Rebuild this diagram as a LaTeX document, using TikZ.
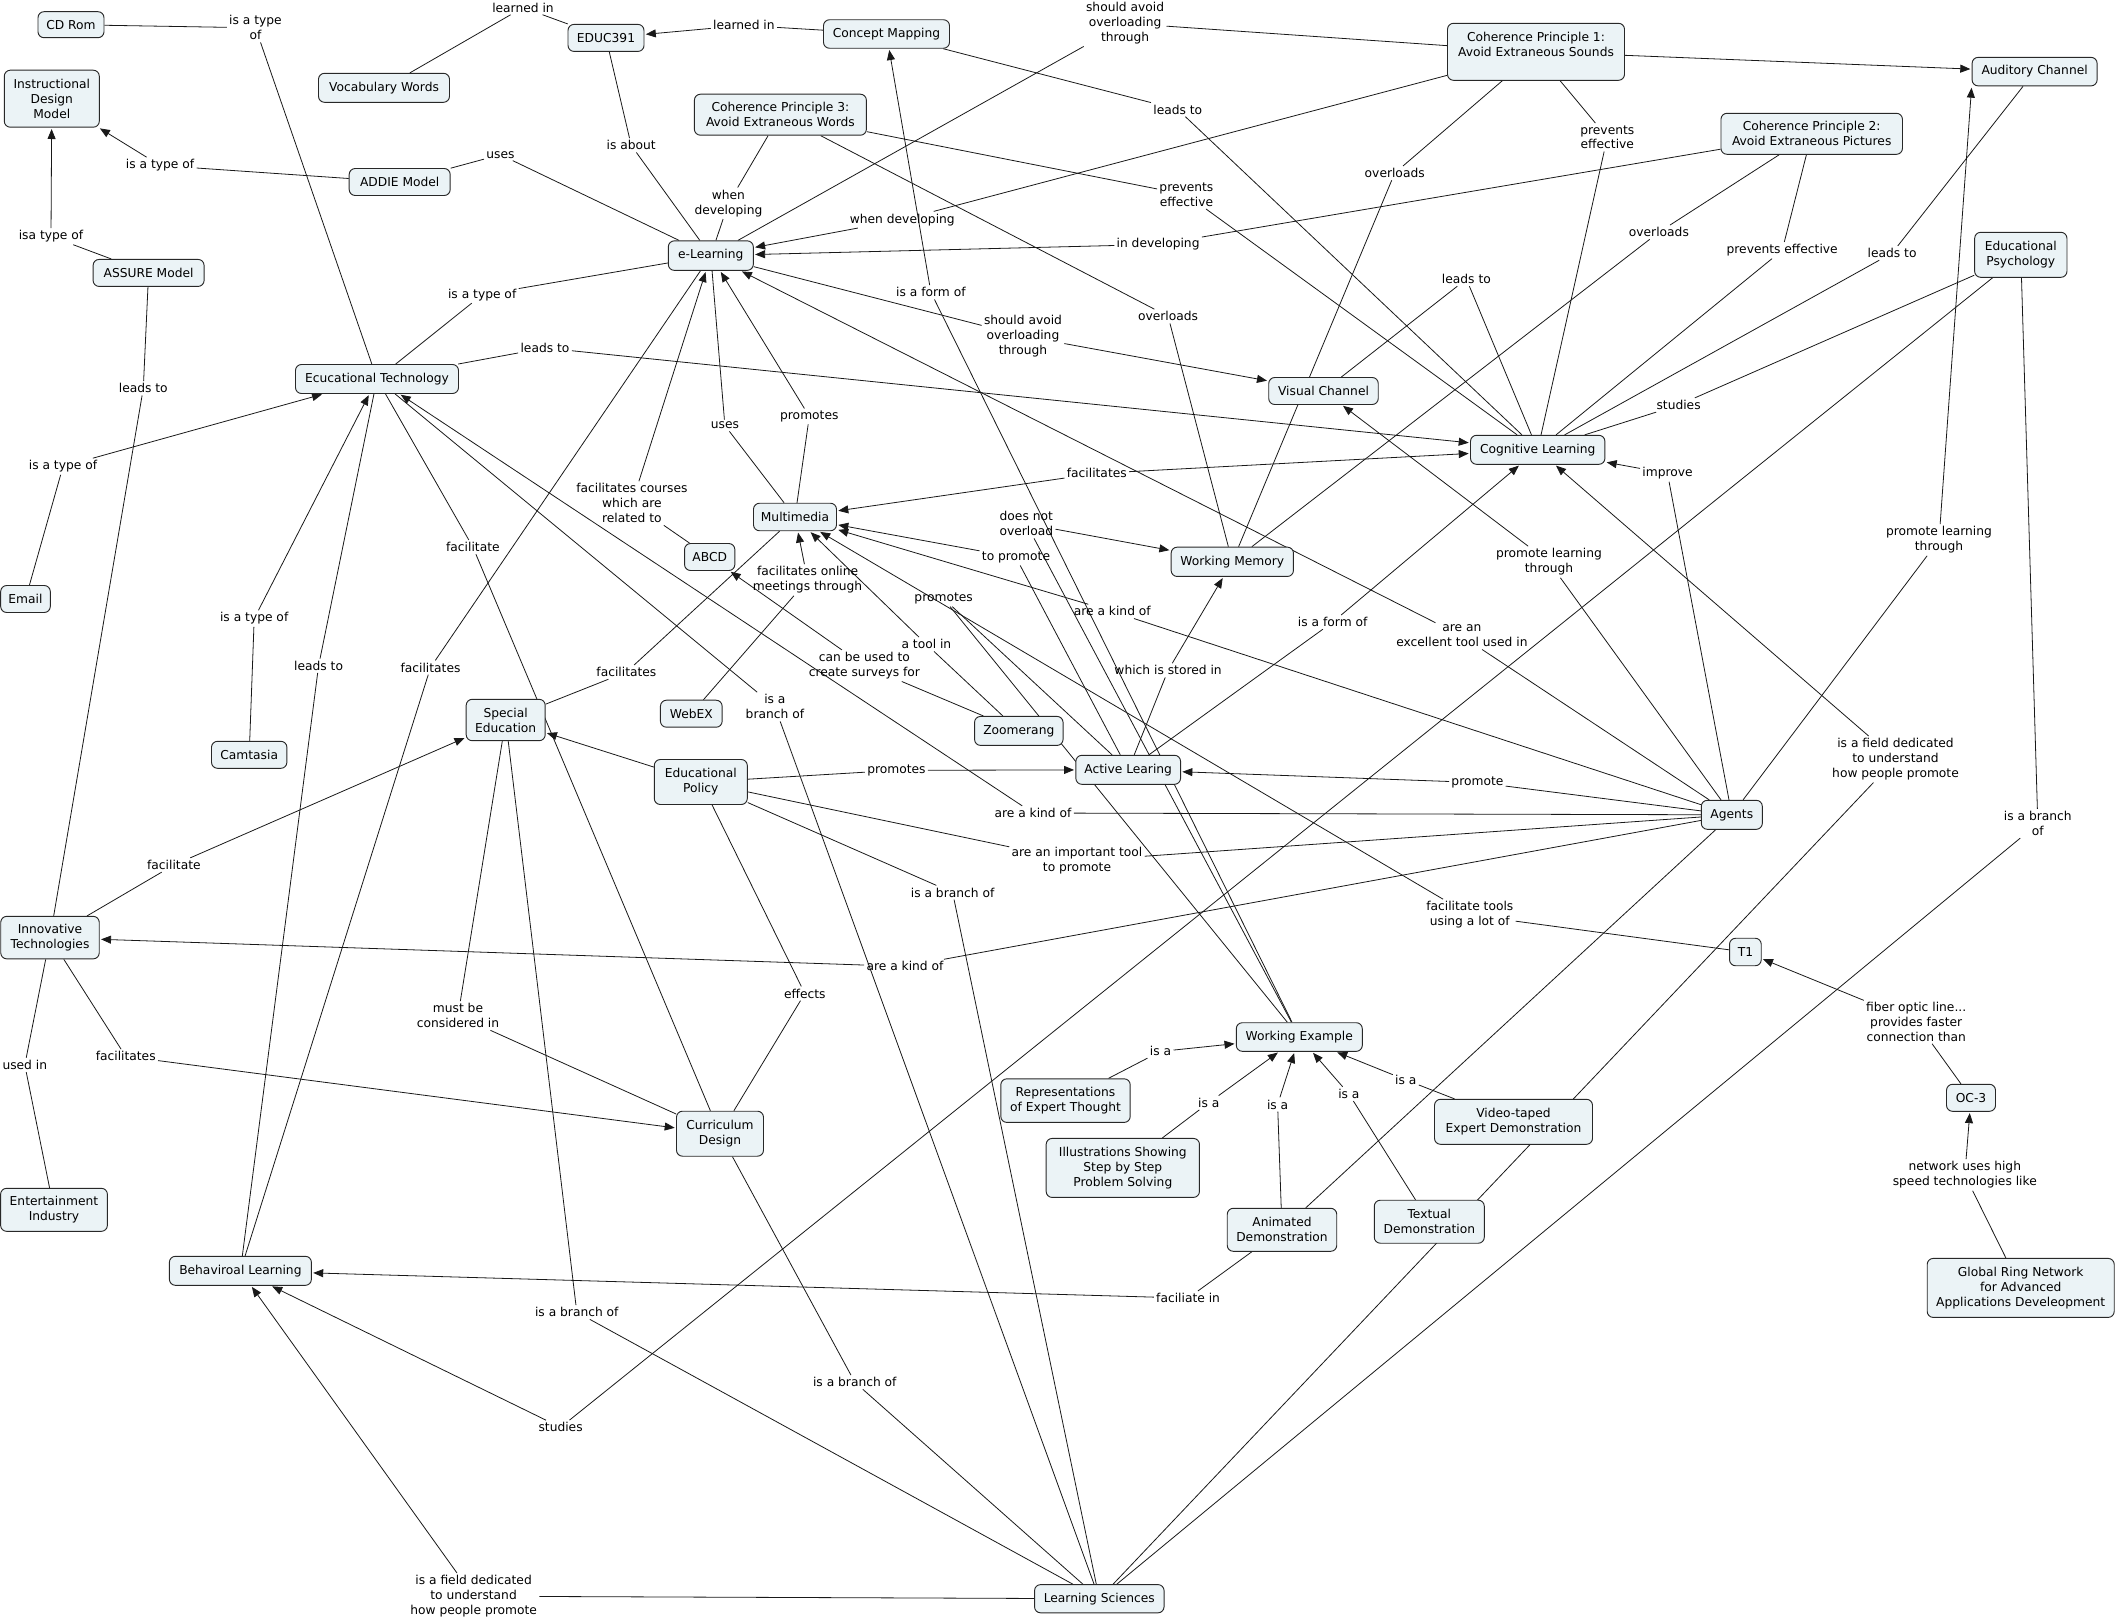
\documentclass[tikz,border=0pt]{standalone}
\usepackage{fontspec}
\setmainfont{DejaVu Sans}
\usetikzlibrary{arrows.meta,backgrounds}
\definecolor{nodefill}{RGB}{235,243,246}
\definecolor{nodeline}{RGB}{40,40,40}
\definecolor{edgecol}{RGB}{25,25,25}
\begin{document}
\begin{tikzpicture}[x=0.75pt,y=-0.75pt,
  con/.style 2 args={draw=nodeline, fill=nodefill, rounded corners=4.5pt, line width=0.7pt,
    minimum width=#1*0.75pt, minimum height=#2*0.75pt, inner sep=1pt, align=center,
    font=\fontsize{9.2pt}{11.2pt}\selectfont},
  lab/.style={align=center, inner sep=1.6pt, font=\fontsize{9.2pt}{11.2pt}\selectfont},
  ln/.style={draw=edgecol, line width=0.6pt},
  ar/.style={ln, -{Triangle[length=7.5pt,width=6pt]}, shorten >=1pt}]
\useasboundingbox (0,0) rectangle (2118,1622);

% ---------- concepts ----------
\node[con={66}{26}] (cdrom) at (71,24.7) {CD Rom};
\node[con={95}{57}] (idm) at (51.8,98.7) {Instructional\\Design\\Model};
\node[con={131}{29}] (vocab) at (384,87.8) {Vocabulary Words};
\node[con={101}{27}] (addie) at (399.7,182) {ADDIE Model};
\node[con={111}{27}] (assure) at (148.6,272.9) {ASSURE Model};
\node[con={163}{29}] (edtech) at (377,379) {Ecucational Technology};
\node[con={76}{27}] (educ) at (606,37.9) {EDUC391};
\node[con={126}{28.5}] (cmap) at (886.5,34) {Concept Mapping};
\node[con={172}{41}] (cp3) at (780.4,114.7) {Coherence Principle 3:\\Avoid Extraneous Words};
\node[con={85}{29.5}] (elearn) at (710.8,255.6) {e-Learning};
\node[con={83}{27.5}] (mm) at (795,517) {Multimedia};
\node[con={109.5}{27}] (vc) at (1323.5,391) {Visual Channel};
\node[con={134.4}{29}] (cl) at (1537.7,449.8) {Cognitive Learning};
\node[con={177}{57}] (cp1) at (1536,51.8) {Coherence Principle 1:\\Avoid Extraneous Sounds\\\mbox{}};
\node[con={125}{28.5}] (aud) at (2034.6,71.6) {Auditory Channel};
\node[con={181.5}{41}] (cp2) at (1811.7,133.8) {Coherence Principle 2:\\Avoid Extraneous Pictures};
\node[con={92.3}{45}] (edpsy) at (2020.8,254.8) {Educational\\Psychology};
\node[con={49.6}{27}] (email) at (25.5,599) {Email};
\node[con={75.4}{27}] (camt) at (249.2,754.8) {Camtasia};
\node[con={79}{41.4}] (sped) at (505.7,720) {Special\\Education};
\node[con={98.5}{42.5}] (innov) at (50,937.6) {Innovative\\Technologies};
\node[con={50.3}{27}] (abcd) at (709.7,557) {ABCD};
\node[con={61.7}{27}] (webex) at (691.3,713.7) {WebEX};
\node[con={93}{45}] (edpol) at (700.8,782) {Educational\\Policy};
\node[con={88.5}{29}] (zoom) at (1018.8,730.9) {Zoomerang};
\node[con={122.3}{29.3}] (wm) at (1232.3,561.8) {Working Memory};
\node[con={104.7}{29}] (al) at (1128.2,769.8) {Active Learing};
\node[con={126}{28.6}] (we) at (1299.3,1037) {Working Example};
\node[con={61}{29}] (agents) at (1731.8,814.8) {Agents};
\node[con={31.7}{27.5}] (t1) at (1745.4,952) {T1};
\node[con={106.8}{43}] (ent) at (54,1209.8) {Entertainment\\Industry};
\node[con={142}{29}] (bl) at (240.4,1270.8) {Behaviroal Learning};
\node[con={87}{45}] (cd) at (720,1133.7) {Curriculum\\Design};
\node[con={129.5}{28.2}] (ls) at (1099.3,1598.7) {Learning Sciences};
\node[con={129.4}{43.6}] (rep) at (1065.5,1100.6) {Representations\\of Expert Thought};
\node[con={153.3}{59}] (illus) at (1122.8,1167.9) {Illustrations Showing\\Step by Step\\Problem Solving};
\node[con={109.5}{43}] (anim) at (1282,1229.8) {Animated\\Demonstration};
\node[con={110}{43}] (textd) at (1429.3,1221.7) {Textual\\Demonstration};
\node[con={158}{45}] (video) at (1513.5,1121.8) {Video-taped\\Expert Demonstration};
\node[con={49}{27}] (oc3) at (1971,1097.8) {OC-3};
\node[con={187}{59}] (grn) at (2020.7,1287.9) {Global Ring Network\\for Advanced\\Applications Develeopment};

% ---------- linking phrases ----------
\node[lab] (l1) at (255.5,27.8) {is a type\\of};
\node[lab] (l2) at (523,7.6) {learned in};
\node[lab] (l3) at (743.9,25.4) {learned in};
\node[lab] (l4) at (631.2,145.3) {is about};
\node[lab] (l5) at (160.1,165.5) {is a type of};
\node[lab] (l6) at (500.4,154.7) {uses};
\node[lab] (l7) at (51,236.4) {isa type of};
\node[lab] (l8) at (143.3,388.3) {leads to};
\node[lab] (l9) at (482.2,294.8) {is a type of};
\node[lab] (l10) at (545,348) {leads to};
\node[lab] (l11) at (63,466.5) {is a type of};
\node[lab] (l12) at (254.2,618.6) {is a type of};
\node[lab] (l13) at (318.6,665.7) {leads to};
\node[lab] (l14) at (472.9,547.1) {facilitate};
\node[lab] (l15) at (430.5,667.5) {facilitates};
\node[lab] (l16) at (631.9,503.3) {facilitates courses\\which are\\related to};
\node[lab] (l17) at (724.9,425.5) {uses};
\node[lab] (l18) at (809.3,416.4) {promotes};
\node[lab] (l19) at (1461.9,636.1) {are an\\excellent tool used in};
\node[lab] (l20) at (1023,336) {should avoid\\overloading\\through};
\node[lab] (l21) at (902.3,219.7) {when developing};
\node[lab] (l22) at (1158.1,244.4) {in developing};
\node[lab] (l23) at (1125.1,23.3) {should avoid\\overloading\\through};
\node[lab] (l24) at (728.4,203.3) {when\\developing};
\node[lab] (l25) at (1186.4,194.7) {prevents\\effective};
\node[lab] (l26) at (1168.1,316.3) {overloads};
\node[lab] (l27) at (1177.8,109.5) {leads to};
\node[lab] (l28) at (1394.7,173.1) {overloads};
\node[lab] (l29) at (1607.3,137.3) {prevents\\effective};
\node[lab] (l31) at (1658.9,232.2) {overloads};
\node[lab] (l32) at (1782.2,250.3) {prevents effective};
\node[lab] (l33) at (1892.1,253.1) {leads to};
\node[lab] (l34) at (1466.4,279.1) {leads to};
\node[lab] (l35) at (1678.6,405) {studies};
\node[lab] (l36) at (1667.5,473.4) {improve};
\node[lab] (l37) at (1332.7,622.1) {is a form of};
\node[lab] (l38) at (1895.5,759.3) {is a field dedicated\\to understand\\how people promote};
\node[lab] (l39) at (1096.8,473.4) {facilitates};
\node[lab] (l40) at (1477.4,782.5) {promote};
\node[lab] (l41) at (1033,813) {are a kind of};
\node[lab] (l42) at (1077,861) {are an important tool\\to promote};
\node[lab] (l43) at (905,966.4) {are a kind of};
\node[lab] (l44) at (1112.3,611.4) {are a kind of};
\node[lab] (l45) at (1939,540) {promote learning\\through};
\node[lab] (l46) at (1549,562) {promote learning\\through};
\node[lab] (l48) at (1469.8,915) {facilitate tools\\using a lot of};
\node[lab] (l49) at (1916.2,1021.7) {fiber optic line...\\provides faster\\connection than};
\node[lab] (l50) at (1964.8,1174.9) {network uses high\\speed technologies like};
\node[lab] (l51) at (2037.8,823.5) {is a branch\\of};
\node[lab] (l52) at (560.6,1427.3) {studies};
\node[lab] (l53) at (1188.1,1298.1) {faciliate in};
\node[lab] (l54) at (473.6,1596.2) {is a field dedicated\\to understand\\how people promote};
\node[lab] (l55) at (576.8,1312.2) {is a branch of};
\node[lab] (l56) at (458,1015.7) {must be\\considered in};
\node[lab] (l57) at (173.9,865) {facilitate};
\node[lab] (l58) at (125.7,1056.4) {facilitates};
\node[lab] (l59) at (24.8,1064.9) {used in};
\node[lab] (l60) at (896.4,770.3) {promotes};
\node[lab] (l62) at (804.8,993.5) {effects};
\node[lab] (l63) at (952.6,892.5) {is a branch of};
\node[lab] (l64) at (854.8,1382.2) {is a branch of};
\node[lab] (l65) at (774.9,706.8) {is a\\branch of};
\node[lab] (l66) at (807.6,580) {facilitates online\\meetings through};
\node[lab] (l67) at (926.4,644.3) {a tool in};
\node[lab] (l68) at (864.4,665.7) {can be used to\\create surveys for};
\node[lab] (l69) at (1168.1,670.3) {which is stored in};
\node[lab] (l70) at (1026.3,523.8) {does not\\overload};
\node[lab] (l70b) at (943.6,598.6) {promotes};
\node[lab] (l71) at (1016,557.5) {to promote};
\node[lab] (l72) at (1160.5,1051.4) {is a};
\node[lab] (l73) at (1208.8,1102.7) {is a};
\node[lab] (l74) at (1277.6,1104.5) {is a};
\node[lab] (l75) at (1348.9,1093.9) {is a};
\node[lab] (l76) at (1405.8,1079.9) {is a};
\node[lab] (l77) at (626.4,672.1) {facilitates};
\node[lab] (l80) at (930.9,292.3) {is a form of};

% ---------- connectors ----------
\begin{pgfonlayer}{background}
\draw[ln] (cdrom) -- (l1); \draw[ln] (l1) -- (edtech);
\draw[ln] (vocab) -- (l2); \draw[ln] (l2) -- (educ);
\draw[ln] (cmap) -- (l3); \draw[ar] (l3) -- (educ);
\draw[ln] (educ) -- (l4); \draw[ln] (l4) -- (elearn);
\draw[ln] (addie) -- (l5); \draw[ar] (l5) -- (idm);
\draw[ln] (addie) -- (l6); \draw[ln] (l6) -- (elearn);
\draw[ln] (assure) -- (l7); \draw[ar] (l7) -- (idm);
\draw[ln] (assure) -- (l8); \draw[ln] (l8) -- (innov);
\draw[ln] (edtech) -- (l9); \draw[ln] (l9) -- (elearn);
\draw[ln] (edtech) -- (l10); \draw[ar] (l10) -- (cl);
\draw[ln] (email) -- (l11); \draw[ar] (l11) -- (edtech);
\draw[ln] (camt) -- (l12); \draw[ar] (l12) -- (edtech);
\draw[ln] (bl) -- (l13); \draw[ln] (l13) -- (edtech);
\draw[ln] (edtech) -- (l14); \draw[ln] (l14) -- (cd);
\draw[ln] (bl) -- (l15); \draw[ln] (l15) -- (elearn);
\draw[ln] (abcd) -- (l16); \draw[ar] (l16) -- (elearn);
\draw[ln] (elearn) -- (l17); \draw[ln] (l17) -- (mm);
\draw[ln] (mm) -- (l18); \draw[ar] (l18) -- (elearn);
\draw[ln] (agents) -- (l19); \draw[ar] (l19) -- (elearn);
\draw[ln] (elearn) -- (l20); \draw[ar] (l20) -- (vc);
\draw[ln] (cp1) -- (l21); \draw[ar] (l21) -- (elearn);
\draw[ln] (cp2) -- (l22); \draw[ar] (l22) -- (elearn);
\draw[ln] (cp1) -- (l23); \draw[ln] (l23) -- (elearn);
\draw[ln] (cp3) -- (l24); \draw[ln] (l24) -- (elearn);
\draw[ln] (cp3) -- (l25); \draw[ln] (l25) -- (cl);
\draw[ln] (cp3) -- (l26); \draw[ln] (l26) -- (wm);
\draw[ln] (cmap) -- (l27); \draw[ln] (l27) -- (cl);
\draw[ln] (cp1) -- (l28); \draw[ln] (l28) -- (wm);
\draw[ln] (cp1) -- (l29); \draw[ln] (l29) -- (cl);
\draw[ar] (cp1) -- (aud);
\draw[ln] (cp2) -- (l31); \draw[ln] (l31) -- (wm);
\draw[ln] (cp2) -- (l32); \draw[ln] (l32) -- (cl);
\draw[ln] (aud) -- (l33); \draw[ln] (l33) -- (cl);
\draw[ln] (vc) -- (l34); \draw[ln] (l34) -- (cl);
\draw[ln] (edpsy) -- (l35); \draw[ln] (l35) -- (cl);
\draw[ln] (agents) -- (l36); \draw[ar] (l36) -- (cl);
\draw[ln] (al) -- (l37); \draw[ar] (l37) -- (cl);
\draw[ln] (ls) -- (l38); \draw[ar] (l38) -- (cl);
\draw[ar] (l39) -- (mm); \draw[ar] (l39) -- (cl);
\draw[ln] (agents) -- (l40); \draw[ar] (l40) -- (al);
\draw[ln] (agents) -- (l41); \draw[ar] (l41) -- (edtech);
\draw[ln] (edpol) -- (l42); \draw[ln] (l42) -- (agents);
\draw[ln] (agents) -- (l43); \draw[ar] (l43) -- (innov);
\draw[ln] (agents) -- (l44); \draw[ar] (l44) -- (mm);
\draw[ln] (agents) -- (l45); \draw[ar] (l45) -- (aud.south west);
\draw[ln] (agents) -- (l46); \draw[ar] (l46) -- (vc);
\draw[ln] (agents) -- (anim);
\draw[ln] (t1) -- (l48); \draw[ar] (l48) -- (mm);
\draw[ln] (oc3) -- (l49); \draw[ar] (l49) -- (t1);
\draw[ln] (grn) -- (l50); \draw[ar] (l50) -- (oc3);
\draw[ln] (edpsy) -- (l51); \draw[ln] (l51) -- (ls);
\draw[ln] (edpsy) -- (l52); \draw[ar] (l52) -- (bl);
\draw[ln] (anim) -- (l53); \draw[ar] (l53) -- (bl);
\draw[ln] (ls) -- (l54); \draw[ar] (l54) -- (bl);
\draw[ln] (sped) -- (l55); \draw[ln] (l55) -- (ls);
\draw[ln] (sped) -- (l56); \draw[ln] (l56) -- (cd);
\draw[ln] (innov) -- (l57); \draw[ar] (l57) -- (sped);
\draw[ln] (innov) -- (l58); \draw[ar] (l58) -- (cd);
\draw[ln] (innov) -- (l59); \draw[ln] (l59) -- (ent);
\draw[ln] (edpol) -- (l60); \draw[ar] (l60) -- (al);
\draw[ar] (edpol) -- (sped);
\draw[ln] (edpol) -- (l62); \draw[ln] (l62) -- (cd);
\draw[ln] (edpol) -- (l63); \draw[ln] (l63) -- (ls);
\draw[ln] (cd) -- (l64); \draw[ln] (l64) -- (ls);
\draw[ln] (edtech) -- (l65); \draw[ln] (l65) -- (ls);
\draw[ln] (webex) -- (l66); \draw[ar] (l66) -- (mm);
\draw[ln] (zoom) -- (l67); \draw[ar] (l67) -- (mm);
\draw[ln] (zoom) -- (l68); \draw[ar] (l68) -- (abcd);
\draw[ln] (al) -- (l69); \draw[ar] (l69) -- (wm);
\draw[ln] (we) -- (l70); \draw[ar] (l70) -- (wm);
\draw[ln] (l70b) -- (al); \draw[ln] (l70b) -- (we);
\draw[ln] (al) -- (l71); \draw[ar] (l71) -- (mm);
\draw[ln] (rep) -- (l72); \draw[ar] (l72) -- (we);
\draw[ln] (illus) -- (l73); \draw[ar] (l73) -- (we);
\draw[ln] (anim) -- (l74); \draw[ar] (l74) -- (we);
\draw[ln] (textd) -- (l75); \draw[ar] (l75) -- (we);
\draw[ln] (video) -- (l76); \draw[ar] (l76) -- (we);
\draw[ln] (sped) -- (l77); \draw[ln] (l77) -- (mm);
\draw[ln] (we) -- (l80); \draw[ar] (l80) -- (cmap);
\end{pgfonlayer}
\end{tikzpicture}
\end{document}
